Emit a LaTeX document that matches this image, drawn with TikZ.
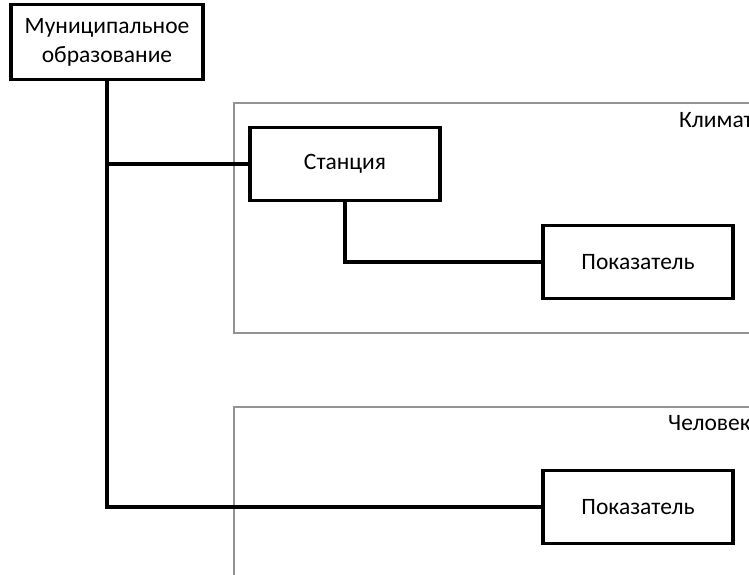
\documentclass[tikz,border=0pt]{standalone}
\usepackage{fontspec}
\setmainfont{Carlito}
\begin{document}
\begin{tikzpicture}[x=1pt,y=-1pt,
  entity/.style={draw=black,line width=3.5pt,fill=white,minimum width=190pt,minimum height=73pt,inner sep=0pt,font=\fontsize{23.5}{29}\selectfont,align=center},
  frame/.style={draw=gray!85,line width=1.6pt},
  conn/.style={draw=black,line width=3.5pt},
  lbl/.style={font=\fontsize{23.5}{29}\selectfont,anchor=base east,inner sep=0pt}]
\useasboundingbox (0,0) rectangle (749,575);
\begin{scope}
\clip (0,0) rectangle (749,575);
\draw[frame] (760,103) -- (234,103) -- (234,333) -- (760,333);
\draw[frame] (760,407) -- (234,407) -- (234,590);
\end{scope}
\node[lbl] (t1) at (753,128) {Климат};
\node[lbl] (t2) at (751,430) {Человек};
\node[entity,minimum width=192pt,minimum height=75pt] (mo) at (107,42) {Муниципальное\\образование};
\node[entity] (st) at (345,164) {Станция};
\node[entity] (p1) at (638,262) {Показатель};
\node[entity] (p2) at (638,507) {Показатель};
\coordinate (j1) at (mo.south |- st.west);
\coordinate (j2) at (mo.south |- p2.west);
\coordinate (j3) at (st.south |- p1.west);
\draw[conn] (mo.south) -- (j2) -- (p2.west);
\draw[conn] (j1) -- (st.west);
\draw[conn] (st.south) -- (j3) -- (p1.west);
\end{tikzpicture}
\end{document}
